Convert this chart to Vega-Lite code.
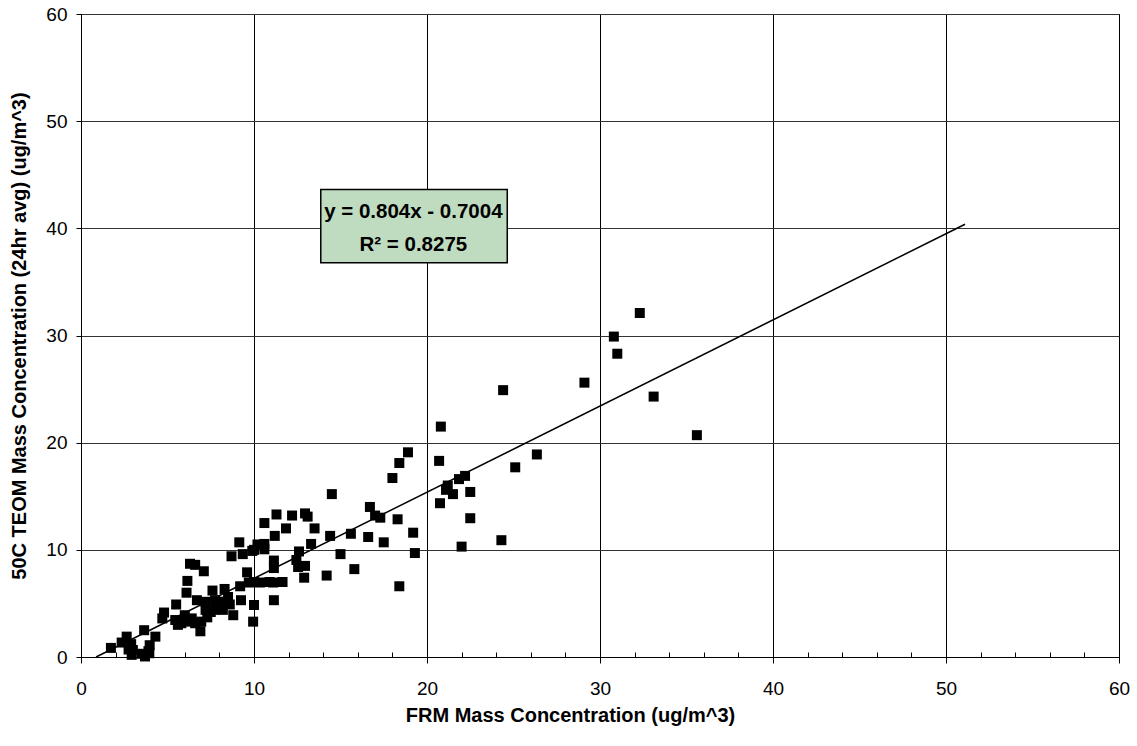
{
  "$schema": "https://vega.github.io/schema/vega-lite/v6.json",
  "autosize": {"type": "none"},
  "padding": {"left": 81, "top": 14, "right": 18, "bottom": 89},
  "width": 1038,
  "height": 643,
  "config": {
    "font": "Liberation Sans",
    "view": {"stroke": "#000", "strokeWidth": 1},
    "axis": {"labelColor": "#000", "titleColor": "#000", "domainColor": "#000", "tickColor": "#000"}
  },
  "datasets": {
    "pts": [
      {"frm": 32.3, "teom": 32.1}, {"frm": 30.8, "teom": 29.9}, {"frm": 31.0, "teom": 28.3}, {"frm": 29.1, "teom": 25.6},
      {"frm": 33.1, "teom": 24.3}, {"frm": 35.6, "teom": 20.7}, {"frm": 24.4, "teom": 24.9}, {"frm": 26.35, "teom": 18.9},
      {"frm": 25.1, "teom": 17.7}, {"frm": 20.8, "teom": 21.5}, {"frm": 20.7, "teom": 18.3}, {"frm": 22.2, "teom": 16.9},
      {"frm": 21.85, "teom": 16.6}, {"frm": 21.2, "teom": 16.0}, {"frm": 21.1, "teom": 15.6}, {"frm": 21.5, "teom": 15.2},
      {"frm": 22.5, "teom": 15.4}, {"frm": 20.75, "teom": 14.35}, {"frm": 22.5, "teom": 12.95}, {"frm": 24.3, "teom": 10.9},
      {"frm": 22.0, "teom": 10.3}, {"frm": 18.9, "teom": 19.1}, {"frm": 18.4, "teom": 18.1}, {"frm": 18.0, "teom": 16.7},
      {"frm": 14.5, "teom": 15.2}, {"frm": 16.7, "teom": 14.0}, {"frm": 17.0, "teom": 13.2}, {"frm": 17.3, "teom": 13.0},
      {"frm": 18.3, "teom": 12.85}, {"frm": 19.2, "teom": 11.6}, {"frm": 19.3, "teom": 9.7}, {"frm": 16.6, "teom": 11.2},
      {"frm": 17.5, "teom": 10.7}, {"frm": 18.4, "teom": 6.6}, {"frm": 15.6, "teom": 11.5}, {"frm": 15.0, "teom": 9.6},
      {"frm": 15.8, "teom": 8.2}, {"frm": 14.2, "teom": 7.6}, {"frm": 14.4, "teom": 11.3}, {"frm": 13.5, "teom": 12.0},
      {"frm": 13.3, "teom": 10.55}, {"frm": 12.6, "teom": 9.85}, {"frm": 12.95, "teom": 8.5}, {"frm": 12.9, "teom": 7.4},
      {"frm": 12.95, "teom": 13.4}, {"frm": 13.1, "teom": 13.1}, {"frm": 12.2, "teom": 13.2}, {"frm": 11.3, "teom": 13.3},
      {"frm": 10.6, "teom": 12.5}, {"frm": 11.85, "teom": 12.0}, {"frm": 11.2, "teom": 11.3}, {"frm": 12.45, "teom": 9.05},
      {"frm": 12.55, "teom": 8.4}, {"frm": 11.15, "teom": 9.0}, {"frm": 11.15, "teom": 8.3}, {"frm": 11.15, "teom": 5.3},
      {"frm": 10.0, "teom": 10.0}, {"frm": 10.2, "teom": 10.5}, {"frm": 10.6, "teom": 10.55}, {"frm": 10.6, "teom": 10.05},
      {"frm": 9.15, "teom": 10.7}, {"frm": 8.7, "teom": 9.4}, {"frm": 9.35, "teom": 9.6}, {"frm": 9.9, "teom": 9.9},
      {"frm": 10.0, "teom": 7.0}, {"frm": 10.35, "teom": 6.95}, {"frm": 10.9, "teom": 7.0}, {"frm": 11.1, "teom": 6.95},
      {"frm": 11.65, "teom": 7.0}, {"frm": 10.0, "teom": 4.85}, {"frm": 9.95, "teom": 3.3}, {"frm": 9.6, "teom": 7.9},
      {"frm": 9.2, "teom": 6.6}, {"frm": 9.7, "teom": 6.95}, {"frm": 9.25, "teom": 5.3}, {"frm": 7.1, "teom": 8.0},
      {"frm": 6.3, "teom": 8.7}, {"frm": 6.6, "teom": 8.6}, {"frm": 6.15, "teom": 7.1}, {"frm": 6.1, "teom": 6.0},
      {"frm": 7.6, "teom": 6.2}, {"frm": 8.3, "teom": 6.35}, {"frm": 6.7, "teom": 5.3}, {"frm": 5.5, "teom": 4.9},
      {"frm": 4.8, "teom": 4.15}, {"frm": 4.7, "teom": 3.6}, {"frm": 7.2, "teom": 5.15}, {"frm": 7.75, "teom": 5.3},
      {"frm": 8.0, "teom": 5.15}, {"frm": 8.3, "teom": 5.15}, {"frm": 8.5, "teom": 5.6}, {"frm": 8.8, "teom": 3.9},
      {"frm": 6.9, "teom": 2.4}, {"frm": 5.45, "teom": 3.45}, {"frm": 5.8, "teom": 3.15}, {"frm": 6.4, "teom": 3.6},
      {"frm": 6.6, "teom": 3.15}, {"frm": 6.95, "teom": 3.3}, {"frm": 6.0, "teom": 3.9}, {"frm": 7.3, "teom": 3.7},
      {"frm": 7.5, "teom": 4.2}, {"frm": 7.7, "teom": 4.4}, {"frm": 8.2, "teom": 4.4}, {"frm": 8.6, "teom": 4.9},
      {"frm": 7.2, "teom": 4.4}, {"frm": 6.3, "teom": 3.3}, {"frm": 5.6, "teom": 3.0}, {"frm": 1.73, "teom": 0.85},
      {"frm": 2.35, "teom": 1.35}, {"frm": 2.64, "teom": 1.9}, {"frm": 2.9, "teom": 1.2}, {"frm": 2.75, "teom": 0.7},
      {"frm": 3.0, "teom": 0.65}, {"frm": 2.93, "teom": 0.2}, {"frm": 3.5, "teom": 0.3}, {"frm": 3.95, "teom": 0.35},
      {"frm": 3.7, "teom": 0.05}, {"frm": 3.9, "teom": 0.55}, {"frm": 3.65, "teom": 2.5}, {"frm": 4.3, "teom": 1.9},
      {"frm": 3.97, "teom": 1.1}
    ],
    "trend": [
      {"frm": 0.871, "teom": 0.0},
      {"frm": 51.1, "teom": 40.38}
    ],
    "box": [
      {"x1": 13.86, "x2": 24.64, "y1": 36.78, "y2": 43.62}
    ],
    "eq": [
      {"frm": 19.21, "teom": 41.48, "label": "y = 0.804x - 0.7004"},
      {"frm": 19.21, "teom": 38.49, "label": "R² = 0.8275"}
    ]
  },
  "resolve": {"axis": {"x": "independent"}},
  "layer": [
    {
      "data": {"name": "pts"},
      "mark": {"type": "point", "shape": "square", "filled": true, "size": 100, "color": "#000", "opacity": 1},
      "encoding": {
        "x": {
          "field": "frm", "type": "quantitative",
          "scale": {"domain": [0, 60], "nice": false, "zero": false},
          "axis": {
            "orient": "bottom",
            "title": "FRM Mass Concentration (ug/m^3)",
            "titleFontSize": 20, "titleFontWeight": "bold", "titlePadding": 7,
            "titleAnchor": "start", "titleAlign": "center", "titleX": 489,
            "values": [0, 10, 20, 30, 40, 50, 60],
            "labelFontSize": 19, "labelPadding": 16,
            "tickSize": 6, "grid": true, "gridColor": "#000", "gridOpacity": 1,
            "labelFlush": false
          }
        },
        "y": {
          "field": "teom", "type": "quantitative",
          "scale": {"domain": [0, 60], "nice": false},
          "axis": {
            "title": "50C TEOM Mass Concentration (24hr avg) (ug/m^3)",
            "titleFontSize": 20, "titleFontWeight": "bold", "titlePadding": 16,
            "values": [0, 10, 20, 30, 40, 50, 60],
            "labelFontSize": 19, "labelPadding": 9,
            "tickSize": 5, "grid": true, "gridColor": "#333", "gridOpacity": 1,
            "labelFlush": false
          }
        }
      }
    },
    {
      "data": {"name": "box"},
      "mark": {"type": "rect", "fill": "#c0dcc0", "stroke": "#000", "strokeWidth": 1.5},
      "encoding": {
        "x": {"field": "x1", "type": "quantitative", "axis": null},
        "x2": {"field": "x2"},
        "y": {"field": "y1", "type": "quantitative"},
        "y2": {"field": "y2"}
      }
    },
    {
      "data": {"name": "trend"},
      "mark": {"type": "line", "color": "#000", "strokeWidth": 1.5},
      "encoding": {
        "x": {
          "field": "frm", "type": "quantitative",
          "axis": {
            "orient": "bottom", "title": null, "labels": false, "domain": false, "grid": false,
            "values": [2, 4, 6, 8, 10, 12, 14, 16, 18, 20, 22, 24, 26, 28, 30, 32, 34, 36, 38, 40, 42, 44, 46, 48, 50, 52, 54, 56, 58, 60],
            "tickSize": -5
          }
        },
        "y": {"field": "teom", "type": "quantitative"}
      }
    },
    {
      "data": {"name": "eq"},
      "mark": {"type": "text", "fontSize": 20.5, "fontWeight": "bold", "color": "#000", "align": "center", "baseline": "middle"},
      "encoding": {
        "x": {"field": "frm", "type": "quantitative", "axis": null},
        "y": {"field": "teom", "type": "quantitative"},
        "text": {"field": "label"}
      }
    }
  ]
}
